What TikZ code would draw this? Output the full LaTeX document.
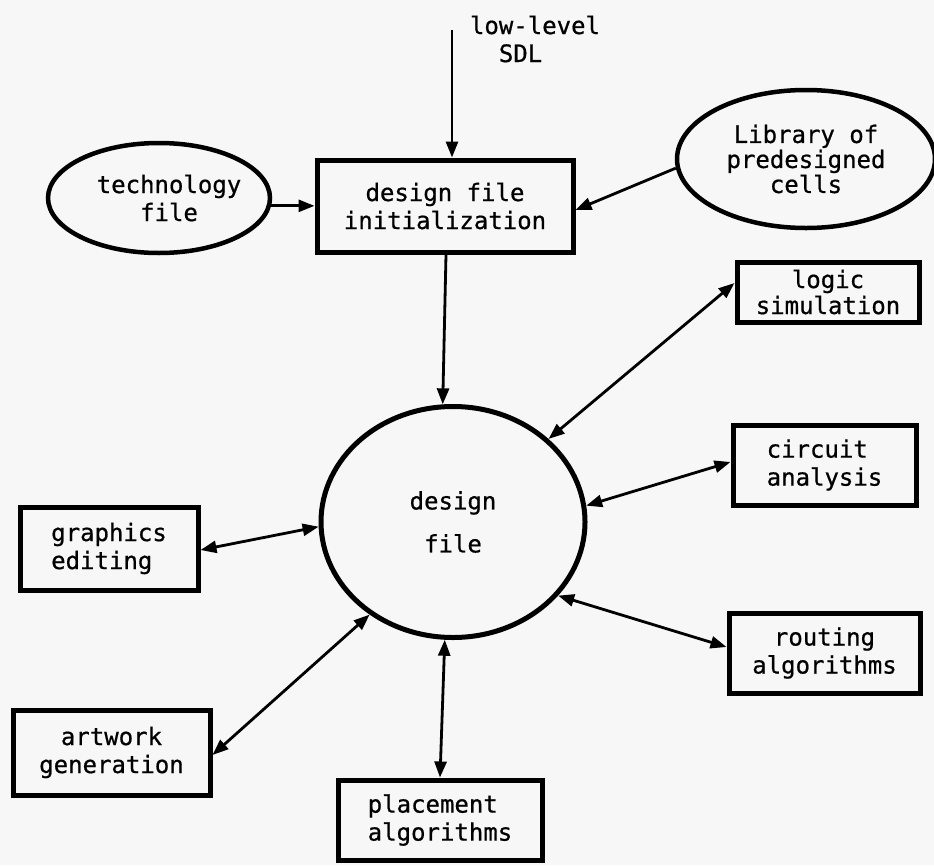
\documentclass[tikz,border=0pt]{standalone}
\usepackage{fontspec}
\newfontfamily\dmono[FakeBold=0.7]{DejaVu Sans Mono}
\usetikzlibrary{arrows.meta,shapes.geometric}
\begin{document}
\begin{tikzpicture}[x=1pt,y=-1pt,
  txt/.style={font=\dmono\fontsize{24}{28}\selectfont, align=center, inner sep=0pt},
  boxnode/.style={txt, draw, line width=5pt, rectangle},
  ovalnode/.style={txt, draw, line width=4.5pt, ellipse},
  conn/.style={line width=2.8pt, -{Triangle[length=16pt,width=12pt]}},
  biconn/.style={line width=2.8pt, {Triangle[length=16pt,width=12pt]}-{Triangle[length=16pt,width=12pt]}}]
\useasboundingbox (0,0) rectangle (934,865);
\fill[black!3] (0,0) rectangle (934,865);

\node[txt, align=left] (sdltext) at (535,39) {low-level\\\phantom{lo}SDL};
\coordinate (sdl) at (452,30);

\node[boxnode, minimum width=256pt, minimum height=92pt] (init) at (445,206) {design file\\initialization};
\node[ovalnode, minimum width=222pt, minimum height=110pt] (tech) at (159,198) {\kern10pt technology\kern-10pt\\\kern10pt file\kern-10pt};
\node[ovalnode, minimum width=258pt, minimum height=138pt, font=\dmono\fontsize{24}{25}\selectfont] (lib) at (806,159) {Library of\\predesigned\\cells};
\node[ovalnode, line width=5pt, minimum width=264pt, minimum height=231pt] (df) at (453,522) {design\\[15pt]file};

\node[boxnode, minimum width=182pt, minimum height=60pt, font=\dmono\fontsize{24}{26}\selectfont] (logic) at (828,292) {logic\\simulation};
\node[boxnode, minimum width=183pt, minimum height=80pt, align=left] (circuit) at (824.5,465) {circuit\\analysis};
\node[boxnode, minimum width=191pt, minimum height=80pt] (routing) at (824.5,653) {routing\\algorithms};
\node[boxnode, minimum width=204pt, minimum height=80pt, align=left] (placement) at (440,820) {placement\\algorithms};
\node[boxnode, minimum width=178pt, minimum height=83pt, align=left] (graphics) at (109,548.5) {graphics\\editing};
\node[boxnode, minimum width=197pt, minimum height=85pt] (artwork) at (111.5,752.5) {artwork\\generation};

\draw[conn] (sdl) -- (sdl |- init.north);
\draw[conn] (tech.-4) -- (tech.-4 -| init.west);
\draw[conn] (lib.184) -- ([yshift=-4pt]init.east);
\draw[conn] ([xshift=1pt]init.south) -- (df.95);
\draw[biconn] (df.41) -- ([yshift=9pt]logic.west);
\draw[biconn] (df.7) -- ([yshift=3pt]circuit.west);
\draw[biconn] (df.-35) -- ([yshift=6pt]routing.west);
\draw[biconn] (df.-94) -- (placement.north);
\draw[biconn] (df.182) -- ([yshift=-1.5pt]graphics.east);
\draw[biconn] (df.-132) -- ([yshift=-2.5pt]artwork.east);
\end{tikzpicture}
\end{document}
